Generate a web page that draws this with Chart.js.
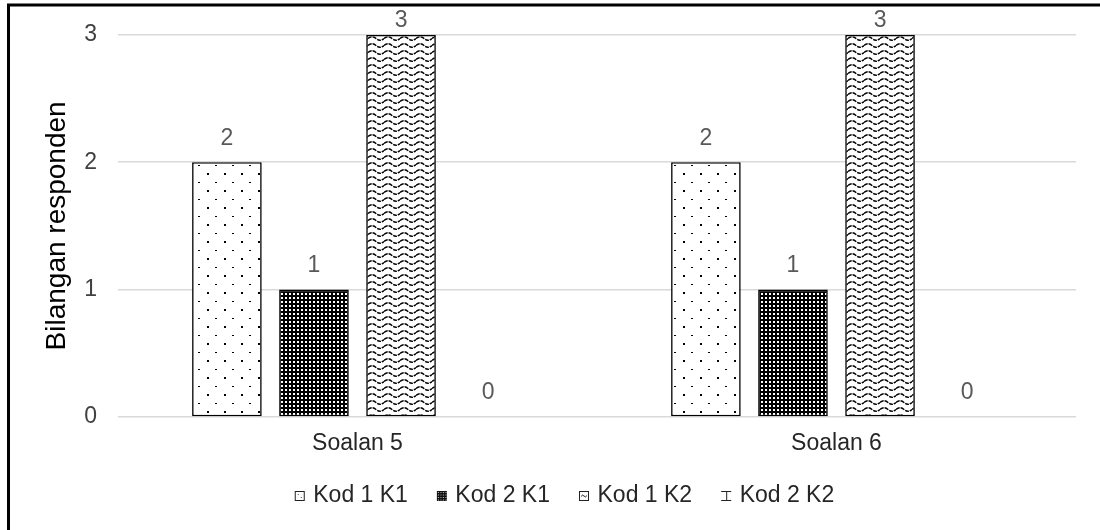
<!DOCTYPE html>
<html>
<head>
<meta charset="utf-8">
<script src="https://cdn.jsdelivr.net/npm/chart.js@4/dist/chart.umd.min.js"></script>
<style>
  html, body { margin: 0; padding: 0; background: #fff; }
  canvas { display: block; }
</style>
</head>
<body>
<canvas id="chart" width="1100" height="530"></canvas>
<script>
// Categories and series values
const categories = ['Soalan 5', 'Soalan 6'];
const seriesNames = ['Kod 1 K1', 'Kod 2 K1', 'Kod 1 K2', 'Kod 2 K2'];
const kod1K1 = [2, 2];
const kod2K1 = [1, 1];
const kod1K2 = [3, 3];
const kod2K2 = [0, 0];
const yTickValues = [0, 1, 2, 3];
const yTitle = 'Bilangan responden';

const FONT = '"Liberation Sans", Arial, sans-serif';

function tile(w, h, paint) {
  const c = document.createElement('canvas');
  c.width = w; c.height = h;
  const g = c.getContext('2d');
  paint(g, w, h);
  return c;
}

// Fill patterns
const dotTile = tile(17, 17, (g, w, h) => {
  g.fillStyle = '#fff'; g.fillRect(0, 0, w, h);
  g.fillStyle = '#000';
  g.fillRect(3, 3, 2, 2);
  g.fillRect(11, 12, 2, 1);
});
const denseTile = tile(4, 4, (g, w, h) => {
  g.fillStyle = '#000'; g.fillRect(0, 0, w, h);
  g.fillStyle = '#fff'; g.fillRect(1, 1, 2, 2);
});
const waveTile = tile(16, 7, (g, w, h) => {
  g.fillStyle = '#fff'; g.fillRect(0, 0, w, h);
  g.strokeStyle = '#000'; g.lineWidth = 1.5;
  g.setLineDash([4, 1]);
  g.beginPath();
  g.moveTo(0, 3.5);
  g.quadraticCurveTo(4, 0, 8, 3.5);
  g.quadraticCurveTo(12, 7, 16, 3.5);
  g.stroke();
});

const ctx = document.getElementById('chart').getContext('2d');
const pat = (c) => ctx.createPattern(c, 'repeat');
const fills = [pat(dotTile), pat(denseTile), pat(waveTile), pat(dotTile)];

// Legend keys
const icons = [
  tile(12, 12, (g) => {
    g.fillStyle = '#fff'; g.fillRect(0, 0, 12, 12);
    g.strokeStyle = '#222'; g.lineWidth = 1; g.strokeRect(1.5, 1.5, 9, 9);
    g.fillStyle = '#444'; g.fillRect(4, 4, 1, 1); g.fillRect(7, 7, 1, 1);
  }),
  tile(12, 12, (g) => {
    g.fillStyle = '#111'; g.fillRect(1, 1, 10, 10);
    g.fillStyle = '#ccc';
    for (let x = 2; x < 11; x += 2.5) for (let y = 2; y < 11; y += 2.5) g.fillRect(x, y, 1, 1);
  }),
  tile(12, 12, (g) => {
    g.fillStyle = '#fff'; g.fillRect(0, 0, 12, 12);
    g.strokeStyle = '#222'; g.lineWidth = 1; g.strokeRect(1.5, 1.5, 9, 9);
    g.beginPath(); g.moveTo(3, 6.5); g.quadraticCurveTo(4.5, 4, 6, 6); g.quadraticCurveTo(7.5, 8, 9, 5.5); g.stroke();
  }),
  tile(12, 12, (g) => {
    g.strokeStyle = '#222'; g.lineWidth = 1;
    g.beginPath();
    g.moveTo(1, 1.5); g.lineTo(11, 1.5);
    g.moveTo(1, 10.5); g.lineTo(11, 10.5);
    g.moveTo(6.5, 1.5); g.lineTo(6.5, 10.5);
    g.stroke();
  })
];

const seriesValues = [kod1K1, kod2K1, kod1K2, kod2K2];

// Outer frame of the figure
const framePlugin = {
  id: 'frame',
  afterDraw(chart) {
    const g = chart.ctx;
    g.save();
    g.strokeStyle = '#000';
    g.lineWidth = 3;
    g.strokeRect(8.5, 5, 1300, 800);
    g.restore();
  }
};

// Value labels above each bar
const valueLabels = {
  id: 'valueLabels',
  afterDatasetsDraw(chart) {
    const g = chart.ctx;
    g.save();
    g.font = '23px ' + FONT;
    g.fillStyle = '#595959';
    g.textAlign = 'center';
    g.textBaseline = 'middle';
    chart.data.datasets.forEach((ds, i) => {
      chart.getDatasetMeta(i).data.forEach((bar, j) => {
        const y = Math.max(bar.y - 24, 21);
        g.fillText(String(ds.data[j]), bar.x, y);
      });
    });
    g.restore();
  }
};

// Center the legend row under the plot
const legendShift = {
  id: 'legendShift',
  afterLayout(chart) {
    if (chart.legend) {
      chart.legend.left += 28;
      chart.legend.right += 28;
    }
  }
};

new Chart(ctx, {
  type: 'bar',
  data: {
    labels: categories,
    datasets: seriesNames.map((name, i) => ({
      label: name,
      data: seriesValues[i],
      backgroundColor: fills[i],
      borderColor: '#000',
      borderWidth: 1.6,
      borderSkipped: false,
      categoryPercentage: 0.727,
      barPercentage: 0.8
    }))
  },
  options: {
    responsive: false,
    animation: false,
    devicePixelRatio: 1,
    layout: { padding: { left: 0, right: 24, top: 33, bottom: 12.5 } },
    plugins: {
      tooltip: { enabled: false },
      legend: {
        position: 'bottom',
        labels: {
          usePointStyle: true,
          pointStyleWidth: 4,
          padding: 32,
          color: '#262626',
          font: { family: FONT, size: 23 },
          generateLabels: (chart) => chart.data.datasets.map((ds, i) => ({
            text: ds.label,
            pointStyle: icons[i],
            datasetIndex: i,
            hidden: false,
            fontColor: '#262626',
            lineWidth: 0
          }))
        }
      }
    },
    scales: {
      x: {
        grid: { display: false, drawTicks: false },
        border: { display: false },
        ticks: { color: '#262626', padding: 13, font: { family: FONT, size: 23 } },
        afterFit(scale) { scale.height = 35.5; }
      },
      y: {
        min: yTickValues[0],
        max: yTickValues[yTickValues.length - 1],
        ticks: {
          stepSize: 1,
          color: '#404040',
          padding: 21,
          font: { family: FONT, size: 23 }
        },
        grid: { color: '#d9d9d9', lineWidth: 1.5, drawTicks: false },
        border: { display: false },
        title: {
          display: true,
          text: yTitle,
          color: '#000',
          font: { family: FONT, size: 28 },
          padding: { top: 40, bottom: 0 }
        },
        afterFit(scale) { scale.width = 118; }
      }
    }
  },
  plugins: [valueLabels, legendShift, framePlugin]
});
</script>
</body>
</html>
